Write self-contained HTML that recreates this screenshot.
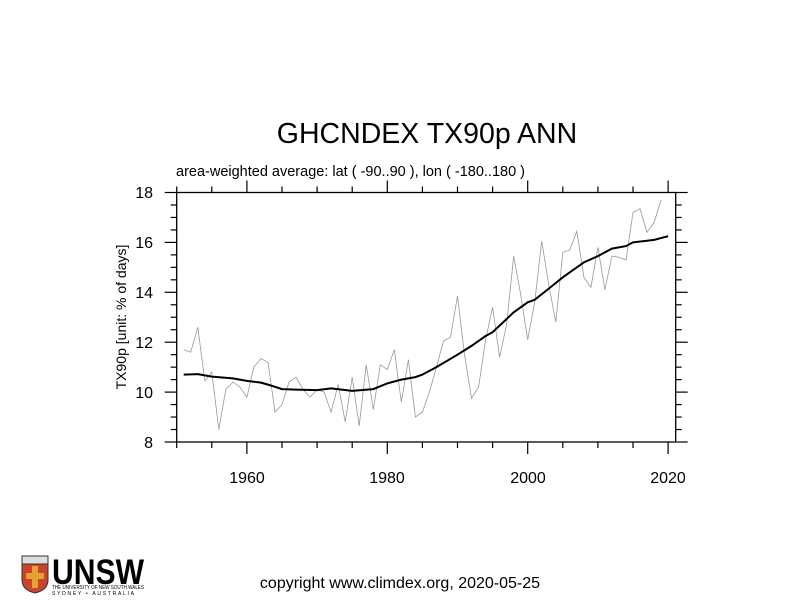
<!DOCTYPE html>
<html><head><meta charset="utf-8"><style>
html,body{margin:0;padding:0;background:#fff;}
svg{display:block;font-family:"Liberation Sans",Arial,sans-serif;}
</style></head><body>
<svg id="s" width="800" height="600" viewBox="0 0 800 600" xmlns="http://www.w3.org/2000/svg">
<rect width="800" height="600" fill="#fff"/>
<text x="427" y="143" font-size="28.5" text-anchor="middle">GHCNDEX TX90p ANN</text>
<text x="176" y="176" font-size="14.5">area-weighted average: lat ( -90..90 ), lon ( -180..180 )</text>
<g id="ticks" stroke="#000" stroke-width="1.2"></g>
<rect x="176.7" y="192.5" width="499" height="249.5" fill="none" stroke="#000" stroke-width="1.3"/>
<g font-size="16" text-anchor="end">
<text x="153" y="198">18</text><text x="153" y="248">16</text><text x="153" y="298">14</text>
<text x="153" y="348">12</text><text x="153" y="398">10</text><text x="153" y="448">8</text>
</g>
<g font-size="16" text-anchor="middle">
<text x="247" y="483">1960</text><text x="387" y="483">1980</text><text x="528" y="483">2000</text><text x="668" y="483">2020</text>
</g>
<text transform="translate(126,317) rotate(-90)" font-size="14" text-anchor="middle">TX90p [unit: % of days]</text>
<polyline id="raw" fill="none" stroke="#999" stroke-width="0.8"/>
<polyline id="sm" fill="none" stroke="#000" stroke-width="2"/>
<text x="400" y="588" font-size="16" text-anchor="middle">copyright www.climdex.org, 2020-05-25</text>
<g>
<rect x="22" y="556" width="26" height="8" fill="#ddd" stroke="#333" stroke-width="1"/>
<path d="M22 564 h26 v16 q0 10 -13 13 q-13 -3 -13 -13z" fill="#c8452c" stroke="#333" stroke-width="1"/>
<rect x="32" y="566" width="6" height="22" fill="#e8a030"/>
<rect x="26" y="573" width="18" height="6" fill="#e8a030"/>
<text x="52" y="584" font-size="35" font-weight="bold" textLength="92" lengthAdjust="spacingAndGlyphs" font-family="Liberation Sans Narrow, Liberation Sans, sans-serif">UNSW</text>
<text x="52" y="589" font-size="5" textLength="92" lengthAdjust="spacingAndGlyphs">THE UNIVERSITY OF NEW SOUTH WALES</text>
<text x="52" y="595" font-size="5" textLength="82" lengthAdjust="spacing">SYDNEY • AUSTRALIA</text>
</g>
<script>
var NS="http://www.w3.org/2000/svg";
var X=function(y){return 176.7+(y-1950)*7.02},Y=function(v){return 192.5+(18-v)*24.95};
var raw=[11.7,11.6,12.6,10.45,10.8,8.5,10.1,10.4,10.2,9.8,11.0,11.35,11.2,9.2,9.5,10.4,10.6,10.1,9.8,10.1,10.0,9.2,10.3,8.8,10.6,8.65,11.1,9.3,11.1,10.9,11.7,9.6,11.3,9.0,9.2,10.0,11.0,12.05,12.2,13.85,11.5,9.75,10.2,12.1,13.4,11.4,12.7,15.45,13.9,12.1,13.6,16.05,14.3,12.8,15.6,15.7,16.45,14.6,14.2,15.8,14.1,15.45,15.4,15.3,17.2,17.35,16.4,16.8,17.7];
var p=raw.map(function(v,i){return X(1951+i).toFixed(1)+","+Y(v).toFixed(1)}).join(" ");
document.getElementById("raw").setAttribute("points",p);
var sm=[[1951,10.7],[1953,10.72],[1955,10.62],[1958,10.55],[1960,10.45],[1962,10.38],[1963,10.3],[1965,10.12],[1967,10.1],[1970,10.08],[1972,10.15],[1975,10.05],[1978,10.12],[1980,10.35],[1982,10.5],[1984,10.6],[1985,10.7],[1987,11.0],[1990,11.5],[1992,11.85],[1994,12.25],[1995,12.4],[1998,13.2],[2000,13.6],[2001,13.7],[2003,14.15],[2005,14.6],[2006,14.8],[2008,15.2],[2010,15.45],[2012,15.75],[2014,15.85],[2015,16.0],[2017,16.07],[2018,16.1],[2020,16.25]];
document.getElementById("sm").setAttribute("points",sm.map(function(a){return X(a[0]).toFixed(1)+","+Y(a[1]).toFixed(1)}).join(" "));
var g=document.getElementById("ticks");
function ln(a,b,c,d){var l=document.createElementNS(NS,"line");l.setAttribute("x1",a);l.setAttribute("y1",b);l.setAttribute("x2",c);l.setAttribute("y2",d);g.appendChild(l);}
for(var y=1950;y<=2020;y+=5){var x=X(y),L=(y%20==0)?12:6;ln(x,442,x,442+L);ln(x,192.5,x,192.5-L);}
for(var i=0;i<=20;i++){var v=8+i*0.5,yy=Y(v),L=(i%4==0)?12:6;ln(176.7,yy,176.7-L,yy);ln(675.7,yy,675.7+L,yy);}
</script>
</svg>
</body></html>
